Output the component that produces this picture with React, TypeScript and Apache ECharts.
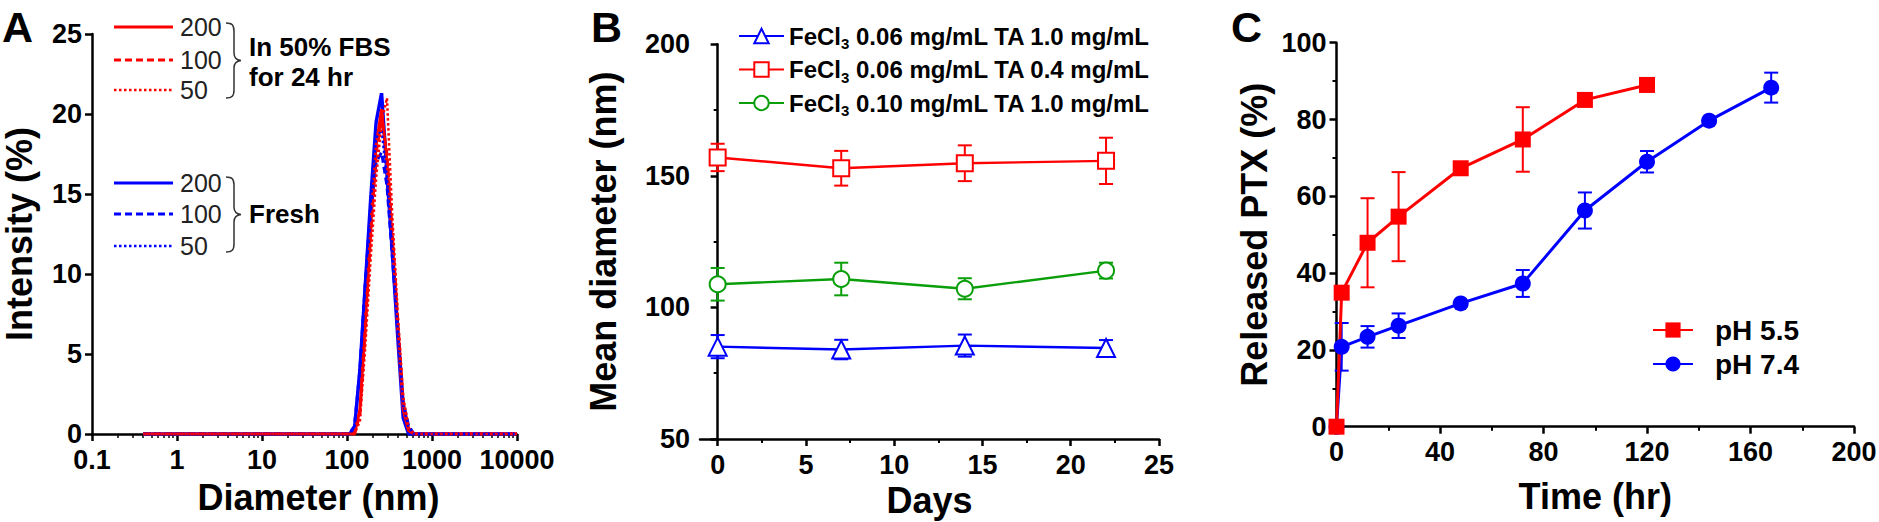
import React, { useEffect, useRef } from "react";
import * as echarts from "echarts";

const FONT = "'Liberation Sans', Arial, Helvetica, sans-serif";
const RED = "#ff0000";
const BLUE = "#0000ff";
const GREEN = "#0a9e0a";

// ---------- Panel A: DLS size distribution ----------
const diamBins = [0.4, 105.7, 122.4, 141.8, 164.2, 190.1, 220.2, 255.0, 295.3, 342.0, 396.1, 458.7, 531.2, 615.1, 10000];
const fbs200 = [0, 0, 0, 1.5, 7, 13, 18, 20.3, 17, 12, 6.5, 1.5, 0.2, 0, 0];
const fbs100 = [0, 0, 0, 1.2, 6.5, 12.5, 17.5, 19.8, 17.5, 12.5, 7, 2, 0.3, 0, 0];
const fbs50 = [0, 0, 0, 0.8, 5.5, 11, 16, 19.5, 21, 13.5, 7.5, 2.3, 0.4, 0, 0];
const fresh200 = [0, 0, 0.3, 4, 9.3, 14.7, 19.5, 21.3, 16.3, 11.3, 6, 1, 0, 0, 0];
const fresh100 = [0, 0, 0.5, 4, 9.5, 14, 17, 17.6, 15.5, 11, 6.5, 2, 0.5, 0, 0];
const fresh50 = [0, 0, 0.4, 4, 9.5, 14.5, 18.5, 19, 16, 11.5, 6.5, 1.8, 0.4, 0, 0];
const logMinorTicks = [
  0.2, 0.3, 0.4, 0.5, 0.6, 0.7, 0.8, 0.9,
  2, 3, 4, 5, 6, 7, 8, 9,
  20, 30, 40, 50, 60, 70, 80, 90,
  200, 300, 400, 500, 600, 700, 800, 900,
  2000, 3000, 4000, 5000, 6000, 7000, 8000, 9000,
];
const legendALabels = ["200", "100", "50"];

// ---------- Panel B: stability over days ----------
const days = [0, 7, 14, 22];
const dayTicks = [0, 5, 10, 15, 20, 25];
const dayMinorTicks = [2.5, 7.5, 12.5, 17.5, 22.5];
const nameB1 = "FeCl3 0.06 mg/mL TA 1.0 mg/mL";
const nameB2 = "FeCl3 0.06 mg/mL TA 0.4 mg/mL";
const nameB3 = "FeCl3 0.10 mg/mL TA 1.0 mg/mL";
const b1Mean = [85.1, 84.0, 85.5, 84.6];
const b1Err = [4.4, 3.7, 4.2, 3.0];
const b2Mean = [157.0, 152.9, 154.8, 155.7];
const b2Err = [5.2, 6.6, 6.8, 8.8];
const b3Mean = [108.8, 110.8, 107.1, 114.0];
const b3Err = [6.2, 6.2, 4.0, 3.0];

// ---------- Panel C: PTX release ----------
const timeAcid = [0, 2, 12, 24, 48, 72, 96, 120];
const releaseAcid = [0, 34.9, 47.9, 54.7, 67.3, 74.8, 85.1, 89.0];
const errAcid = [0, 0, 11.6, 11.6, 0, 8.4, 0, 0];
const timeNeutral = [0, 2, 12, 24, 48, 72, 96, 120, 144, 168];
const releaseNeutral = [0, 20.8, 23.4, 26.3, 32.1, 37.3, 56.3, 69.0, 79.7, 88.3];
const errNeutral = [0, 6.2, 2.8, 3.2, 0, 3.5, 4.7, 2.8, 0, 3.9];

const BRACE_D =
  "M0 0 C6 0 8 2 8 8 L8 30 C8 34 10 37 15 37.5 C10 38 8 41 8 45 L8 67 C8 73 6 75 0 75";
let braceRegistered = false;
function registerBrace() {
  if (braceRegistered) return;
  echarts.graphic.registerShape("brace", echarts.graphic.extendPath(BRACE_D, {}) as any);
  braceRegistered = true;
}

function pairs(xs: number[], ys: number[]) {
  return xs.map((x, i) => [x, ys[i]]);
}
function errData(xs: number[], m: number[], e: number[]) {
  const out: number[][] = [];
  xs.forEach((x, i) => {
    if (e[i] > 0) out.push([x, m[i] - e[i], m[i] + e[i]]);
  });
  return out;
}

function errSeries(name: string, xi: number, yi: number, data: number[][], color: string, hw: number) {
  return {
    type: "custom",
    name,
    xAxisIndex: xi,
    yAxisIndex: yi,
    data,
    encode: { x: 0, y: [1, 2] },
    silent: true,
    renderItem: (params: any, api: any) => {
      const x = api.value(0);
      const lo = api.coord([x, api.value(1)]);
      const hi = api.coord([x, api.value(2)]);
      const st = { stroke: color, lineWidth: 2 };
      return {
        type: "group",
        children: [
          { type: "line", shape: { x1: lo[0], y1: lo[1], x2: hi[0], y2: hi[1] }, style: st },
          { type: "line", shape: { x1: hi[0] - hw, y1: hi[1], x2: hi[0] + hw, y2: hi[1] }, style: st },
          { type: "line", shape: { x1: lo[0] - hw, y1: lo[1], x2: lo[0] + hw, y2: lo[1] }, style: st },
        ],
      };
    },
  };
}

const axisLabelStyle = {
  fontFamily: FONT,
  fontWeight: "bold" as const,
  fontSize: 27,
  color: "#000",
};
const axisLineStyle = { show: true, lineStyle: { color: "#000", width: 2.5 } };
const nameStyle = { fontFamily: FONT, fontWeight: "bold" as const, fontSize: 36, color: "#000" };

export default function App() {
  const ref = useRef<HTMLDivElement>(null);

  useEffect(() => {
    if (!ref.current) return;
    registerBrace();
    const chart = echarts.init(ref.current, undefined, { renderer: "svg" });

    const aLine = (name: string, ys: number[], color: string, type: any, width: number) => ({
      type: "line",
      name,
      xAxisIndex: 0,
      yAxisIndex: 0,
      data: pairs(diamBins, ys),
      showSymbol: false,
      symbol: "none",
      lineStyle: { color, type, width },
      itemStyle: { color },
      silent: true,
    });

    const bLine = (name: string, ys: number[], color: string, symbol: string, size: number) => ({
      type: "line",
      name,
      xAxisIndex: 2,
      yAxisIndex: 1,
      data: pairs(days, ys),
      symbol,
      symbolSize: size,
      lineStyle: { color, width: 2.4 },
      itemStyle: { color, borderColor: color, borderWidth: 2.5 },
      z: 5,
    });

    const cLine = (name: string, xs: number[], ys: number[], color: string, symbol: string, size: number) => ({
      type: "line",
      name,
      xAxisIndex: 4,
      yAxisIndex: 2,
      data: pairs(xs, ys),
      symbol,
      symbolSize: size,
      lineStyle: { color, width: 3 },
      itemStyle: { color },
      z: 5,
    });

    const legendRowsA = [27, 60, 90];
    const legendRowsAFresh = [183, 214, 246];
    const dashes: any[] = ["solid", [7, 4], [2.5, 2.5]];
    const graphics: any[] = [];
    const addLegendA = (rows: number[], color: string) => {
      rows.forEach((y, i) => {
        graphics.push({
          type: "line",
          shape: { x1: 114, y1: y, x2: 173, y2: y },
          style: { stroke: color, lineWidth: i === 2 ? 2.5 : 3, lineDash: dashes[i] === "solid" ? null : dashes[i] },
        });
        graphics.push({
          type: "text",
          x: 180,
          y,
          style: {
            text: legendALabels[i],
            font: `25px ${FONT}`,
            fill: "#222",
            verticalAlign: "middle",
            align: "left",
          },
        });
      });
    };
    addLegendA(legendRowsA, RED);
    addLegendA(legendRowsAFresh, BLUE);
    graphics.push(
      { type: "brace", x: 226, y: 23, style: { stroke: "#333", fill: "none", lineWidth: 1.5 } },
      { type: "brace", x: 226, y: 177, style: { stroke: "#333", fill: "none", lineWidth: 1.5 } },
      {
        type: "text",
        x: 249,
        y: 47,
        style: { text: "In 50% FBS", font: `bold 26px ${FONT}`, fill: "#000", verticalAlign: "middle" },
      },
      {
        type: "text",
        x: 249,
        y: 77,
        style: { text: "for 24 hr", font: `bold 26px ${FONT}`, fill: "#000", verticalAlign: "middle" },
      },
      {
        type: "text",
        x: 249,
        y: 214,
        style: { text: "Fresh", font: `bold 26px ${FONT}`, fill: "#000", verticalAlign: "middle" },
      },
      { type: "text", x: 2, y: 5, style: { text: "A", font: `bold 43px ${FONT}`, fill: "#000" } },
      { type: "text", x: 591, y: 5, style: { text: "B", font: `bold 43px ${FONT}`, fill: "#000" } },
      { type: "text", x: 1231, y: 5, style: { text: "C", font: `bold 43px ${FONT}`, fill: "#000" } }
    );

    const option: any = {
      animation: false,
      backgroundColor: "#fff",
      textStyle: { fontFamily: FONT },
      grid: [
        { left: 92, top: 34, width: 425, height: 400, outerBoundsMode: "none" },
        { left: 700, top: 44.3, width: 459, height: 394.7, outerBoundsMode: "none" },
        { left: 1336.5, top: 42.7, width: 517.5, height: 384, outerBoundsMode: "none" },
      ],
      xAxis: [
        {
          type: "log",
          gridIndex: 0,
          min: 0.1,
          max: 10000,
          logBase: 10,
          name: "Diameter (nm)",
          nameLocation: "middle",
          nameGap: 45,
          nameTextStyle: { ...nameStyle, padding: [0, 0, 0, 28] },
          axisLine: axisLineStyle,
          axisTick: { show: true, length: 7, lineStyle: { width: 2.5, color: "#000" } },
          axisLabel: { ...axisLabelStyle, margin: 12, formatter: (v: number) => String(v) },
          splitLine: { show: false },
          minorTick: { show: false },
        },
        {
          type: "log",
          gridIndex: 0,
          min: 0.1,
          max: 10000,
          logBase: 10,
          position: "bottom",
          offset: 0,
          axisLine: { show: false },
          axisTick: { show: true, length: 4, customValues: logMinorTicks, lineStyle: { width: 1.5, color: "#000" } },
          axisLabel: { show: false },
          splitLine: { show: false },
        },
        {
          type: "value",
          gridIndex: 1,
          min: -1,
          max: 25,
          name: "Days",
          nameLocation: "middle",
          nameGap: 40,
          nameTextStyle: nameStyle,
          axisLine: axisLineStyle,
          axisTick: { show: true, length: 7, customValues: dayTicks, lineStyle: { width: 2.5, color: "#000" } },
          axisLabel: { ...axisLabelStyle, margin: 12, customValues: dayTicks },
          splitLine: { show: false },
        },
        {
          type: "value",
          gridIndex: 1,
          min: -1,
          max: 25,
          position: "bottom",
          offset: 0,
          axisLine: { show: false },
          axisTick: { show: true, length: 4, customValues: dayMinorTicks, lineStyle: { width: 2, color: "#000" } },
          axisLabel: { show: false },
          splitLine: { show: false },
        },
        {
          type: "value",
          gridIndex: 2,
          min: 0,
          max: 200,
          interval: 40,
          name: "Time (hr)",
          nameLocation: "middle",
          nameGap: 52,
          nameTextStyle: nameStyle,
          axisLine: axisLineStyle,
          axisTick: { show: true, length: 7, lineStyle: { width: 2.5, color: "#000" } },
          minorTick: { show: true, splitNumber: 2, length: 4, lineStyle: { width: 2, color: "#000" } },
          axisLabel: { ...axisLabelStyle, margin: 12 },
          splitLine: { show: false },
        },
      ],
      yAxis: [
        {
          type: "value",
          gridIndex: 0,
          min: 0,
          max: 25,
          interval: 5,
          name: "Intensity (%)",
          nameLocation: "middle",
          nameGap: 55,
          nameTextStyle: nameStyle,
          axisLine: axisLineStyle,
          axisTick: { show: true, length: 7, lineStyle: { width: 2.5, color: "#000" } },
          axisLabel: { ...axisLabelStyle, margin: 10 },
          splitLine: { show: false },
        },
        {
          type: "value",
          gridIndex: 1,
          min: 50,
          max: 200,
          interval: 50,
          name: "Mean diameter (nm)",
          nameLocation: "middle",
          nameGap: 79,
          nameTextStyle: nameStyle,
          axisLine: axisLineStyle,
          axisTick: { show: true, length: 7, lineStyle: { width: 2.5, color: "#000" } },
          minorTick: { show: true, splitNumber: 2, length: 4, lineStyle: { width: 2, color: "#000" } },
          axisLabel: { ...axisLabelStyle, margin: 10 },
          splitLine: { show: false },
        },
        {
          type: "value",
          gridIndex: 2,
          min: 0,
          max: 100,
          interval: 20,
          name: "Released PTX (%)",
          nameLocation: "middle",
          nameGap: 64,
          nameTextStyle: nameStyle,
          axisLine: axisLineStyle,
          axisTick: { show: true, length: 7, lineStyle: { width: 2.5, color: "#000" } },
          minorTick: { show: true, splitNumber: 2, length: 4, lineStyle: { width: 2, color: "#000" } },
          axisLabel: { ...axisLabelStyle, margin: 10 },
          splitLine: { show: false },
        },
      ],
      legend: [
        {
          data: [nameB1, nameB2, nameB3],
          orient: "vertical",
          left: 733,
          top: 16,
          itemWidth: 45,
          itemHeight: 18,
          itemGap: 3.5,
          selectedMode: false,
          formatter: (n: string) => n.replace("FeCl3", "FeCl{sub|3}"),
          textStyle: {
            fontFamily: FONT,
            fontWeight: "bold",
            fontSize: 24,
            lineHeight: 25,
            color: "#000",
            rich: {
              sub: {
                fontFamily: FONT,
                fontWeight: "bold",
                fontSize: 15,
                lineHeight: 15,
                padding: [15, 0, 0, 0],
                color: "#000",
              },
            },
          },
        },
        {
          data: ["pH 5.5", "pH 7.4"],
          orient: "vertical",
          left: 1647,
          top: 311,
          itemWidth: 40,
          itemHeight: 19,
          itemGap: 6,
          selectedMode: false,
          formatter: (n: string) => `{t|${n}}`,
          textStyle: {
            fontFamily: FONT,
            fontWeight: "bold",
            fontSize: 28,
            color: "#000",
            rich: {
              t: {
                fontFamily: FONT,
                fontWeight: "bold",
                fontSize: 28,
                color: "#000",
                padding: [0, 0, 0, 17],
              },
            },
          },
        },
      ],
      graphic: graphics,
      series: [
        aLine("Fresh 200", fresh200, BLUE, "solid", 3.5),
        aLine("FBS 200", fbs200, RED, "solid", 3),
        aLine("Fresh 100", fresh100, BLUE, [7, 4], 3),
        aLine("FBS 100", fbs100, RED, [7, 4], 3),
        aLine("Fresh 50", fresh50, BLUE, [2.5, 2.5], 2.5),
        aLine("FBS 50", fbs50, RED, [2.5, 2.5], 2.5),

        errSeries("errB2", 2, 1, errData(days, b2Mean, b2Err), RED, 7),
        errSeries("errB3", 2, 1, errData(days, b3Mean, b3Err), GREEN, 7),
        errSeries("errB1", 2, 1, errData(days, b1Mean, b1Err), BLUE, 7),
        bLine(nameB1, b1Mean, BLUE, "emptyTriangle", 18),
        bLine(nameB2, b2Mean, RED, "emptyRect", 16),
        bLine(nameB3, b3Mean, GREEN, "emptyCircle", 16),

        errSeries("errC74", 4, 2, errData(timeNeutral, releaseNeutral, errNeutral), BLUE, 7),
        errSeries("errC55", 4, 2, errData(timeAcid, releaseAcid, errAcid), RED, 7),
        cLine("pH 7.4", timeNeutral, releaseNeutral, BLUE, "circle", 16),
        cLine("pH 5.5", timeAcid, releaseAcid, RED, "rect", 16),
      ],
    };

    chart.setOption(option);
    return () => {
      chart.dispose();
    };
  }, []);

  return (
    <div
      ref={ref}
      style={{ position: "absolute", left: 0, top: 0, width: 1879, height: 522, background: "#fff" }}
    />
  );
}
